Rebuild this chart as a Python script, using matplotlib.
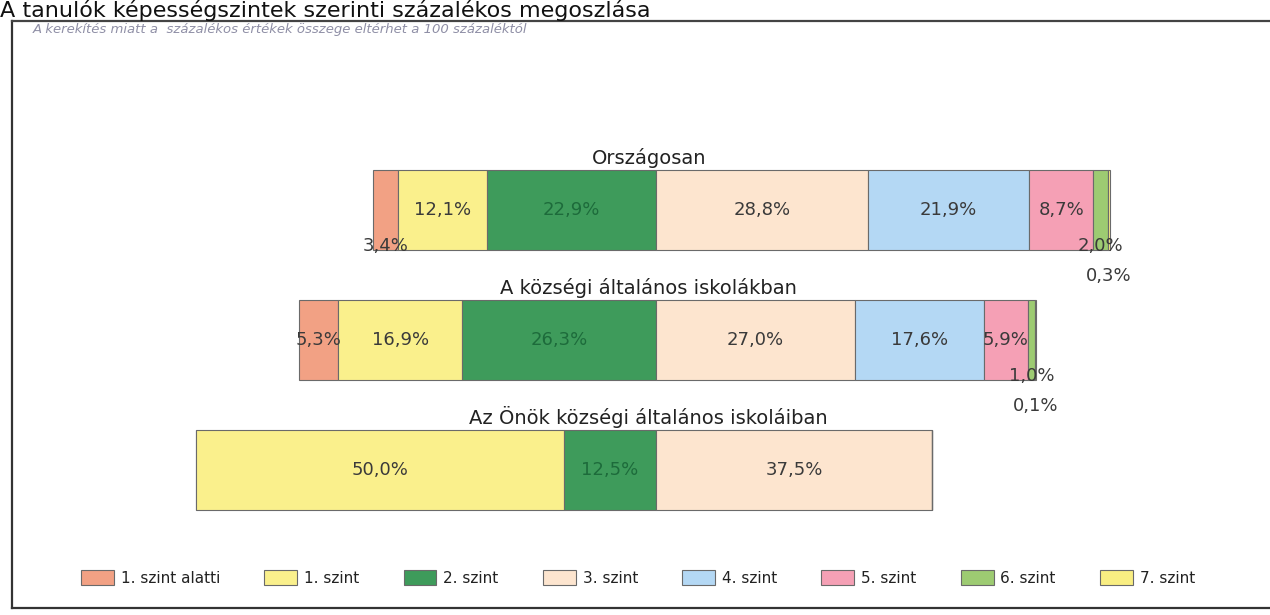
import matplotlib
matplotlib.use("Agg")
import matplotlib.pyplot as plt
from matplotlib.lines import Line2D
import numpy as np

# ---------------- data ----------------
groups = ["Országosan",
          "A községi általános iskolákban",
          "Az Önök községi általános iskoláiban"]
levels = ["1. szint alatti", "1. szint", "2. szint", "3. szint",
          "4. szint", "5. szint", "6. szint", "7. szint"]
lvl_below1 = [3.4, 5.3, 0.0]
lvl_1 = [12.1, 16.9, 50.0]
lvl_2 = [22.9, 26.3, 12.5]
lvl_3 = [28.8, 27.0, 37.5]
lvl_4 = [21.9, 17.6, 0.0]
lvl_5 = [8.7, 5.9, 0.0]
lvl_6 = [2.0, 1.0, 0.0]
lvl_7 = [0.3, 0.1, 0.0]
values = [lvl_below1, lvl_1, lvl_2, lvl_3, lvl_4, lvl_5, lvl_6, lvl_7]

title = "A tanulók képességszintek szerinti százalékos megoszlása"
note = "A kerekítés miatt a  százalékos értékek összege eltérhet a 100 százaléktól"

# ---------------- style ----------------
colors = ["#F2A184", "#FAF08C", "#3E9B5B", "#FDE5CF",
          "#B4D8F4", "#F5A0B5", "#9DCB72", "#F9EE82"]
edge = "#6a6a6a"
txt = "#3a3a3a"
green_txt = "#1D6B3B"

W, H = 1270, 615
fig = plt.figure(figsize=(W / 100, H / 100), dpi=100)
ax = fig.add_axes([0, 0, 1, 1])
ax.set_axis_off()

# pixel mapping: x px = 656 + 7.36 * value ; y px = 210 + 130 * index
ax.set_xlim(-656 / 7.36, (W - 656) / 7.36)
ax.set_ylim((H - 210) / 130, -210 / 130)

bar_h = 0.62
n = len(groups)
ypos = np.arange(n)
vals = np.array(values)  # levels x groups
starts = -(vals[0] + vals[1] + vals[2])

left = starts.copy()
for li, lvl in enumerate(levels):
    v = vals[li]
    ax.barh(ypos, v, left=left, height=bar_h, color=colors[li],
            edgecolor=edge, linewidth=0.8, label=lvl)
    for gi in range(n):
        if v[gi] <= 0:
            continue
        cx = left[gi] + v[gi] / 2
        dy = 0.0
        if v[gi] < 5:
            dy = 0.28
        if li == 7:
            dy = 0.51
        label = f"{v[gi]:.1f}%".replace(".", ",")
        c = green_txt if li == 2 else txt
        ax.text(cx, ypos[gi] + dy, label, ha="center", va="center",
                fontsize=13, color=c)
    left = left + v

# group titles
for gi, g in enumerate(groups):
    ax.text(-1, ypos[gi] - bar_h / 2 - 0.045, g, ha="center", va="baseline",
            fontsize=14, color="#222222")

# frame box (left, top, bottom)
fig.add_artist(Line2D([12 / W, 12 / W], [1 - 21 / H, 1 - 608 / H],
                      transform=fig.transFigure, color="#333333", lw=1.6))
fig.add_artist(Line2D([12 / W, 1.0], [1 - 21 / H, 1 - 21 / H],
                      transform=fig.transFigure, color="#444444", lw=1.6))
fig.add_artist(Line2D([12 / W, 1.0], [1 - 608 / H, 1 - 608 / H],
                      transform=fig.transFigure, color="#333333", lw=1.6))

# title
fig.text(0.0, 1 - 17 / H, title, ha="left", va="baseline",
         fontsize=16, color="#111111")
# note
fig.text(33 / W, 1 - 30 / H, note, ha="left", va="center",
         fontsize=9.5, style="italic", color="#8f8fa6")

# legend
leg = ax.legend(loc="center", bbox_to_anchor=(638 / W, 1 - 578 / H),
                bbox_transform=fig.transFigure, ncol=8, frameon=False,
                fontsize=11, handlelength=2.15, handleheight=1.05,
                handletextpad=0.45, columnspacing=2.9, labelcolor="#222222")

fig.savefig("out.png", dpi=100)
